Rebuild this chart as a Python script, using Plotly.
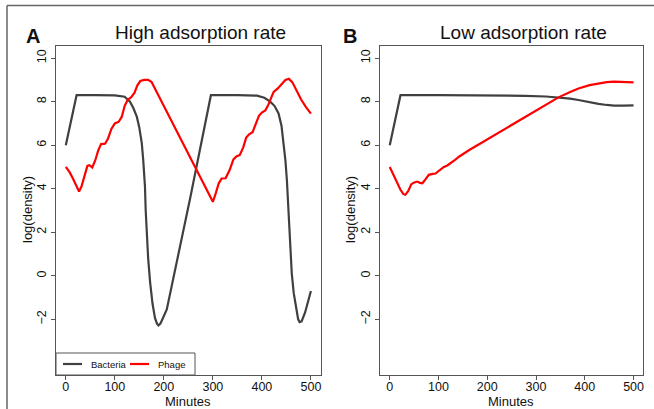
import plotly.graph_objects as go

# panel A: high adsorption rate
a_bact_t = [0, 22, 60, 100, 120, 131, 138, 145, 150, 155, 158, 161.5, 163, 165, 168, 172, 177, 182, 186,
            189, 193, 198, 206, 254, 296, 350, 390, 405, 417, 426, 434, 440, 444, 448, 451, 454, 458, 461,
            465, 470, 474, 477, 481, 488, 494, 500]
a_bact_v = [6.0, 8.3, 8.3, 8.29, 8.23, 8.0, 7.7, 7.3, 6.8, 6.1, 5.3, 4.1, 3.0, 2.0, 0.8, -0.3, -1.3, -1.95, -2.2,
            -2.28, -2.2, -1.95, -1.55, 3.6, 8.3, 8.3, 8.28, 8.18, 8.0, 7.8, 7.46, 6.9, 6.2, 5.3, 4.4, 3.2, 1.2, 0.1,
            -0.8, -1.6, -2.0, -2.13, -2.1, -1.7, -1.25, -0.7]
a_phage_t = [0, 8, 15, 20, 24, 27, 32, 38, 44, 48, 54, 60, 66, 72, 80, 86, 93, 100, 108, 114, 120, 126, 133,
             140, 146, 152, 160, 168, 175, 200, 230, 260, 280, 292, 300, 306, 312, 318, 326, 334, 342, 348,
             355, 362, 368, 374, 381, 387, 394, 400, 407, 412, 418, 424, 432, 440, 448, 455, 462, 470, 480,
             490, 500]
a_phage_v = [5.0, 4.75, 4.45, 4.2, 3.95, 3.87, 4.1, 4.55, 5.05, 5.08, 4.98, 5.3, 5.75, 6.05, 6.07, 6.3, 6.75,
             7.0, 7.08, 7.3, 7.8, 8.08, 8.2, 8.4, 8.75, 8.95, 9.0, 9.0, 8.9, 7.8, 6.5, 5.15, 4.3, 3.8, 3.4, 3.8,
             4.25, 4.47, 4.48, 4.85, 5.35, 5.48, 5.55, 5.9, 6.35, 6.5, 6.6, 6.95, 7.35, 7.5, 7.6, 7.8, 8.1, 8.45,
             8.6, 8.8, 9.0, 9.05, 8.9, 8.55, 8.1, 7.75, 7.45]

# panel B: low adsorption rate
b_bact_t = [0, 22, 100, 200, 278, 320, 346, 370, 387, 410, 428, 445, 460, 480, 500]
b_bact_v = [6.0, 8.3, 8.3, 8.3, 8.27, 8.24, 8.2, 8.14, 8.08, 7.97, 7.9, 7.85, 7.82, 7.82, 7.83]
b_phage_t = [0, 8, 15, 22, 28, 32, 38, 44, 49, 56, 62, 67, 74, 80, 88, 94, 102, 111, 118, 125, 134, 142, 152,
             163, 185, 210, 245, 278, 310, 346, 370, 387, 410, 428, 445, 460, 480, 500]
b_phage_v = [5.0, 4.62, 4.25, 3.95, 3.75, 3.72, 3.9, 4.2, 4.28, 4.33, 4.27, 4.25, 4.45, 4.64, 4.68, 4.7, 4.85,
             5.0, 5.07, 5.17, 5.33, 5.47, 5.6, 5.78, 6.07, 6.4, 6.86, 7.31, 7.75, 8.2, 8.45, 8.61, 8.76, 8.84,
             8.9, 8.92, 8.91, 8.89]

x_ticks = [0, 100, 200, 300, 400, 500]
y_ticks = [-2, 0, 2, 4, 6, 8, 10]

W, H = 654, 409
FONT = "Liberation Sans, Arial, sans-serif"
GREY = "#404040"
RED = "#ff0000"
AX = "#555555"


def px(x):
    return x / W


def py(y):
    return 1 - y / H


fig = go.Figure()
for t, v, col, ax in [(a_bact_t, a_bact_v, GREY, "1"), (a_phage_t, a_phage_v, RED, "1"),
                      (b_bact_t, b_bact_v, GREY, "2"), (b_phage_t, b_phage_v, RED, "2")]:
    fig.add_trace(go.Scatter(x=t, y=v, mode="lines", line=dict(color=col, width=2.2),
                             xaxis="x" + ("" if ax == "1" else ax), yaxis="y" + ("" if ax == "1" else ax),
                             showlegend=False, hoverinfo="skip"))

xax = dict(range=[-20, 520], tickvals=x_ticks, showgrid=False, zeroline=False, showline=True, mirror=True,
           linecolor=AX, linewidth=1, ticks="outside", ticklen=4, tickcolor=AX, ticklabelstandoff=-4,
           tickfont=dict(size=12.5, color="#111"))
yax = dict(range=[-4.56, 10.56], tickvals=y_ticks, ticktext=["\u22122", "0", "2", "4", "6", "8", "10"],
           showgrid=False, zeroline=False, showline=True, mirror=True, linecolor=AX, linewidth=1,
           ticks="outside", ticklen=4, tickcolor=AX, tickangle=-90, tickfont=dict(size=12.5, color="#111"))

fig.update_layout(
    width=W, height=H, margin=dict(l=0, r=0, t=0, b=0),
    paper_bgcolor="white", plot_bgcolor="white",
    font=dict(family=FONT, color="#111"),
    showlegend=False,
    xaxis=dict(xax, domain=[px(56), px(320.7)], anchor="y"),
    yaxis=dict(yax, domain=[py(375), py(46)], anchor="x"),
    xaxis2=dict(xax, domain=[px(380), px(643.3)], anchor="y2"),
    yaxis2=dict(yax, domain=[py(375), py(46)], anchor="x2"),
)

annots = [
    dict(text="<b>A</b>", x=px(33), y=py(36), size=20),
    dict(text="<b>B</b>", x=px(350), y=py(36), size=20),
    dict(text="High adsorption rate", x=px(200), y=py(33), size=19),
    dict(text="Low adsorption rate", x=px(523), y=py(33), size=19),
    dict(text="Minutes", x=px(188), y=py(401), size=13),
    dict(text="Minutes", x=px(511), y=py(401), size=13),
    dict(text="log(density)", x=px(27), y=py(210), size=13, angle=-90),
    dict(text="log(density)", x=px(350), y=py(210), size=13, angle=-90),
    dict(text="Bacteria", x=px(89), y=py(364), size=9.5, xanchor="left"),
    dict(text="Phage", x=px(156), y=py(364), size=9.5, xanchor="left"),
]
for a in annots:
    fig.add_annotation(text=a["text"], x=a["x"], y=a["y"], xref="paper", yref="paper", showarrow=False,
                       xanchor=a.get("xanchor", "center"), yanchor="middle", textangle=a.get("angle", 0),
                       font=dict(size=a["size"], family=FONT, color="#111"))

# legend box and samples, outer frame
fig.add_shape(type="rect", xref="paper", yref="paper", x0=px(56), x1=px(195), y0=py(375), y1=py(353),
              line=dict(color=AX, width=1), fillcolor="white", layer="above")
fig.add_shape(type="line", xref="paper", yref="paper", x0=px(63), x1=px(82), y0=py(364), y1=py(364),
              line=dict(color=GREY, width=2.2))
fig.add_shape(type="line", xref="paper", yref="paper", x0=px(130), x1=px(149), y0=py(364), y1=py(364),
              line=dict(color=RED, width=2.2))
fig.add_shape(type="line", xref="paper", yref="paper", x0=px(7), x1=1, y0=py(5.5), y1=py(5.5),
              line=dict(color="#666", width=1.5))
fig.add_shape(type="line", xref="paper", yref="paper", x0=px(7), x1=px(7), y0=py(5.5), y1=0,
              line=dict(color="#666", width=1.5))

fig.write_html("out.html", config={"displayModeBar": False},
               post_script="document.body.style.margin='0';")
